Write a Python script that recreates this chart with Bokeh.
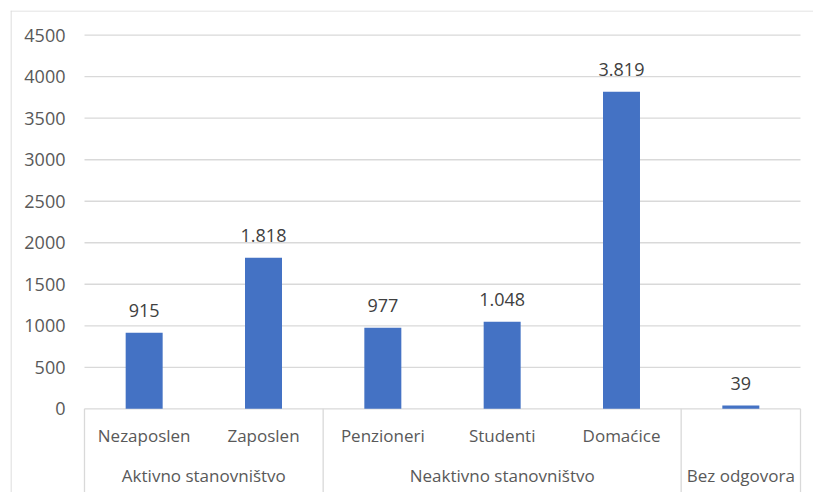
from bokeh.plotting import figure
from bokeh.models import Range1d, ColumnDataSource
from bokeh.core.properties import value
from bokeh.embed import file_html
from bokeh.resources import INLINE

# ---- data ----
categories = ["Nezaposlen", "Zaposlen", "Penzioneri", "Studenti", "Domaćice", ""]
values = [915, 1818, 977, 1048, 3819, 39]
value_labels = ["915", "1.818", "977", "1.048", "3.819", "39"]
groups = ["Aktivno stanovništvo", "Neaktivno stanovništvo", "Bez odgovora"]
group_sizes = [2, 3, 1]
y_ticks = [0, 500, 1000, 1500, 2000, 2500, 3000, 3500, 4000, 4500]
y_tick_labels = [str(t) for t in y_ticks]

FONT = "Open Sans"
GRID = "#d9d9d9"

n = len(categories)
xs = list(range(n))

# scale (pixels per unit) chosen to match the reference layout
PX_X = 119.333
PX_Y = 373.6 / 4500
ZERO_Y = 408.3          # pixel row of value 0
LEFT_X = 84             # pixel column of plot area left
W, H = 813, 492
FL, FT = 10, 10         # frame left/top (chart border)

x0 = -0.5 - (LEFT_X - FL) / PX_X
x1 = -0.5 + (W - LEFT_X) / PX_X
y1 = (ZERO_Y - FT) / PX_Y
y0 = -(H - ZERO_Y) / PX_Y

p = figure(width=W, height=H, output_backend="svg", toolbar_location=None,
           x_range=Range1d(x0, x1), y_range=Range1d(y0, y1),
           x_axis_location=None, y_axis_location=None,
           min_border_left=FL, min_border_right=0, min_border_top=FT, min_border_bottom=0)
p.outline_line_color = None
p.background_fill_color = "white"
p.border_fill_color = "white"
p.grid.visible = False

# chart area border (left and top edges)
half_x = 0.5 / PX_X
half_y = 0.5 / PX_Y
p.segment(x0=[x0 + half_x, x0], y0=[y0, y1 - half_y], x1=[x0 + half_x, x1], y1=[y1, y1 - half_y],
          line_color=GRID, line_width=1.2)

# group bounds
bounds = [-0.5]
for s in group_sizes:
    bounds.append(bounds[-1] + s)
centers = [(bounds[i] + bounds[i + 1]) / 2 for i in range(len(groups))]

# horizontal gridlines
p.segment(x0=[bounds[0]] * len(y_ticks), y0=y_ticks, x1=[bounds[-1]] * len(y_ticks), y1=y_ticks,
          line_color=GRID, line_width=1.3)

# y tick labels
p.text(x=[-0.5 - 19 / PX_X] * len(y_ticks), y=y_ticks, text=y_tick_labels,
       text_align="right", text_baseline="middle",
       text_font=value(FONT), text_font_size="18px", text_color="#595959")

src = ColumnDataSource(dict(x=xs, v=values, lab=value_labels, cat=categories))
p.vbar(x="x", top="v", width=0.31, bottom=0, source=src,
       fill_color="#4472C4", line_color=None)

p.text(x="x", y="v", text="lab", source=src, text_align="center",
       text_baseline="alphabetic", y_offset=-22,
       text_font=value(FONT), text_font_size="18px", text_color="#404040")

# category labels
p.text(x="x", y=-400, text="cat", source=src, text_align="center",
       text_baseline="alphabetic", y_offset=-7,
       text_font=value(FONT), text_font_size="17px", text_color="#595959")

# group labels & separators
p.text(x=centers, y=[-882] * len(groups), text=groups, text_align="center",
       text_baseline="alphabetic", y_offset=-7,
       text_font=value(FONT), text_font_size="17px", text_color="#595959")
p.segment(x0=bounds, y0=[0] * len(bounds), x1=bounds, y1=[y0] * len(bounds),
          line_color=GRID, line_width=1.3)

open("out.html", "w").write(file_html(p, INLINE))
